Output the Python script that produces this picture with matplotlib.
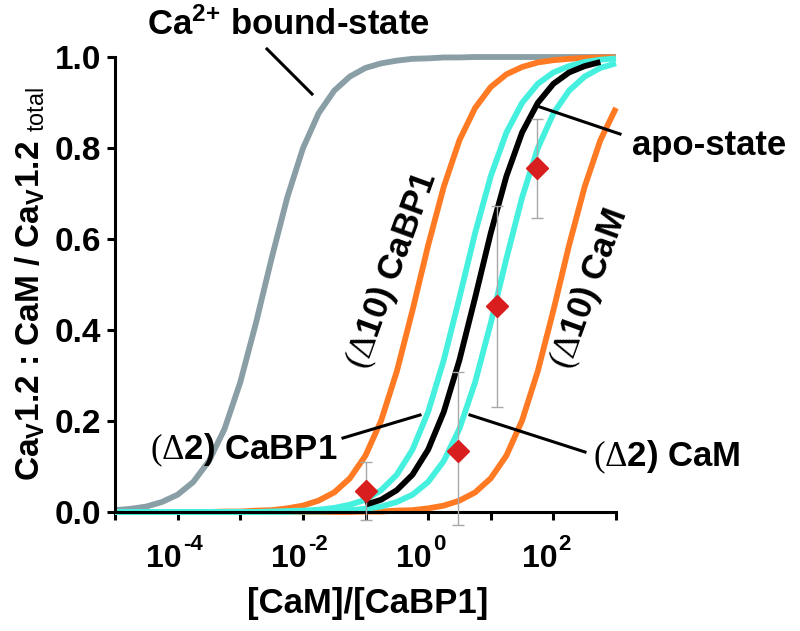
import matplotlib
matplotlib.use('Agg')
import matplotlib.pyplot as plt
import numpy as np
from matplotlib.ticker import FixedLocator, NullFormatter, NullLocator
from matplotlib.lines import Line2D

plt.rcParams['font.family'] = ['Liberation Sans', 'DejaVu Sans']
plt.rcParams['mathtext.fontset'] = 'custom'
plt.rcParams['mathtext.rm'] = 'Liberation Serif'
plt.rcParams['mathtext.bf'] = 'Liberation Sans:bold'
plt.rcParams['mathtext.sf'] = 'Liberation Sans'
plt.rcParams['mathtext.it'] = 'Liberation Sans:italic'

# ---- data (log10 of [CaM]/[CaBP1] sampling grid, and read-off fractions) ----
log_ratio = [-5.0, -4.75, -4.5, -4.25, -4.0, -3.75, -3.5, -3.25, -3.0, -2.75,
             -2.5, -2.25, -2.0, -1.75, -1.5, -1.25, -1.0, -0.75, -0.5, -0.25,
             0.0, 0.25, 0.5, 0.75, 1.0, 1.25, 1.5, 1.75, 2.0, 2.25,
             2.5, 2.75, 3.0]

ca_bound = [0.004, 0.007, 0.012, 0.022, 0.038, 0.066, 0.112, 0.183, 0.285, 0.415,
            0.557, 0.691, 0.799, 0.876, 0.926, 0.957, 0.976, 0.986, 0.992, 0.996,
            0.997, 0.999, 0.999, 1.0, 1.0, 1.0, 1.0, 1.0, 1.0, 1.0,
            1.0, 1.0, 1.0]

d10_cabp1 = [0.0, 0.0, 0.0, 0.0, 0.0, 0.0, 0.0, 0.001, 0.001, 0.003,
             0.004, 0.008, 0.014, 0.025, 0.043, 0.074, 0.124, 0.201, 0.309, 0.443,
             0.586, 0.715, 0.817, 0.888, 0.934, 0.962, 0.978, 0.988, 0.993, 0.996,
             0.998, 0.999, 0.999]

d2_cabp1 = [0.0, 0.0, 0.0, 0.0, 0.0, 0.0, 0.0, 0.0, 0.0, 0.0,
            0.001, 0.002, 0.003, 0.005, 0.009, 0.016, 0.027, 0.048, 0.082, 0.137,
            0.220, 0.334, 0.471, 0.613, 0.738, 0.834, 0.899, 0.941, 0.966, 0.980,
            0.989, 0.994, 0.997]

d2_cam = [0.0, 0.0, 0.0, 0.0, 0.0, 0.0, 0.0, 0.0, 0.0, 0.0,
          0.0, 0.0, 0.001, 0.001, 0.002, 0.004, 0.007, 0.012, 0.022, 0.038,
          0.066, 0.112, 0.183, 0.285, 0.415, 0.557, 0.691, 0.799, 0.876, 0.926,
          0.957, 0.976, 0.986]

d10_cam = [0.0, 0.0, 0.0, 0.0, 0.0, 0.0, 0.0, 0.0, 0.0, 0.0,
           0.0, 0.0, 0.0, 0.0, 0.0, 0.0, 0.001, 0.001, 0.003, 0.004,
           0.008, 0.014, 0.025, 0.043, 0.074, 0.124, 0.201, 0.309, 0.443, 0.586,
           0.715, 0.817, 0.888]

apo_log_ratio = [-1.0, -0.75, -0.5, -0.25, 0.0, 0.25, 0.5, 0.75, 1.0, 1.25,
                 1.5, 1.75, 2.0, 2.25, 2.5, 2.75]
apo_state = [0.016, 0.027, 0.048, 0.082, 0.137, 0.220, 0.334, 0.471, 0.613, 0.738,
             0.834, 0.899, 0.941, 0.966, 0.980, 0.989]

pt_ratio = [0.1, 3.0, 12.6, 55.0]
pt_frac = [0.046, 0.134, 0.452, 0.756]
pt_err_lo = [0.064, 0.163, 0.221, 0.110]
pt_err_hi = [0.064, 0.174, 0.221, 0.108]

x_tick_exp = [-5, -4, -3, -2, -1, 0, 1, 2, 3]
x_label_exp = [-4, -2, 0, 2]
x_label_base = '10'
x_label_sup = ['-4', '-2', '0', '2']
y_ticks = [0.0, 0.2, 0.4, 0.6, 0.8, 1.0]
y_tick_labels = ['0.0', '0.2', '0.4', '0.6', '0.8', '1.0']

# ---- colours ----
C_GRAY = '#8a9ea6'
C_ORANGE = '#ff7a22'
C_CYAN = '#45f0de'
C_RED = '#d81e1e'

W, H = 800, 631
fig = plt.figure(figsize=(W / 100, H / 100), dpi=100)
ax = fig.add_axes([115 / W, 1 - 512 / H, (616 - 115) / W, (512 - 57) / H])


def fp(x, y):
    return (x / W, 1 - y / H)


PT = 0.72  # points per pixel at 100 dpi

x_all = 10 ** np.array(log_ratio)
lw = 4.2
ax.plot(x_all, ca_bound, color=C_GRAY, lw=lw, clip_on=False, solid_capstyle='butt', zorder=2)
ax.plot(x_all, d10_cam, color=C_ORANGE, lw=lw, clip_on=False, solid_capstyle='butt', zorder=2)
ax.plot(x_all, d10_cabp1, color=C_ORANGE, lw=lw, clip_on=False, solid_capstyle='butt', zorder=2)
ax.plot(x_all, d2_cabp1, color=C_CYAN, lw=lw, clip_on=False, solid_capstyle='butt', zorder=2.1)
ax.plot(x_all, d2_cam, color=C_CYAN, lw=lw, clip_on=False, solid_capstyle='butt', zorder=2.1)
ax.plot(10 ** np.array(apo_log_ratio), apo_state, color='black', lw=lw, clip_on=False,
        solid_capstyle='butt', zorder=2.2)

ax.errorbar(pt_ratio, pt_frac, yerr=[pt_err_lo, pt_err_hi], fmt='none', ecolor='#a8a8a8',
            elinewidth=1.0, capsize=4.5, capthick=1.0, clip_on=False, zorder=3)
ax.plot(pt_ratio, pt_frac, linestyle='none', marker='D', markersize=11,
        markerfacecolor=C_RED, markeredgecolor=C_RED, clip_on=False, zorder=4)

ax.set_xscale('log')
ax.set_xlim(1e-5, 1e3)
ax.set_ylim(0, 1)
ax.xaxis.set_major_locator(FixedLocator([10.0 ** e for e in x_tick_exp]))
ax.xaxis.set_major_formatter(NullFormatter())
ax.xaxis.set_minor_locator(NullLocator())
ax.xaxis.set_minor_formatter(NullFormatter())
ax.set_yticks(y_ticks)
ax.set_yticklabels(y_tick_labels, fontsize=24, fontweight='bold')

for s in ['top', 'right']:
    ax.spines[s].set_visible(False)
for s in ['left', 'bottom']:
    ax.spines[s].set_linewidth(2.2)
ax.tick_params(axis='both', direction='out', length=6, width=2.2)
ax.tick_params(axis='y', pad=4)

# x tick labels: "10" with a superscript exponent
for e, sup in zip(x_label_exp, x_label_sup):
    ax.annotate(x_label_base, xy=(10.0 ** e, 0), xycoords=('data', 'axes fraction'),
                xytext=(4 * PT, -55 * PT), textcoords='offset points',
                ha='right', va='baseline', fontsize=23, fontweight='bold',
                annotation_clip=False)
    ax.annotate(sup, xy=(10.0 ** e, 0), xycoords=('data', 'axes fraction'),
                xytext=(5 * PT, -38 * PT), textcoords='offset points',
                ha='left', va='baseline', fontsize=16, fontweight='bold',
                annotation_clip=False)

# axis titles
fig.text(*fp(368, 604), '[CaM]/[CaBP1]', fontsize=25, fontweight='bold',
         ha='center', va='center')
fig.text(*fp(30, 284),
         r'Ca$_{\mathbf{V}}$1.2 : CaM / Ca$_{\mathbf{V}}$1.2 $_{\mathsf{total}}$',
         fontsize=24, fontweight='bold', rotation=90, ha='center', va='center')

# annotations
fig.text(*fp(147, 35), r'Ca$^{\mathbf{2{+}}}$ bound-state', fontsize=25, fontweight='bold',
         ha='left', va='baseline')
fig.text(*fp(632, 155), 'apo-state', fontsize=25, fontweight='bold',
         ha='left', va='baseline')
fig.text(*fp(150, 459), r'$\mathrm{(\Delta}\mathbf{2)\ CaBP1}$', fontsize=25,
         ha='left', va='baseline')
fig.text(*fp(593, 466), r'$\mathrm{(\Delta}\mathbf{2)\ CaM}$', fontsize=25,
         ha='left', va='baseline')
fig.text(*fp(393, 270), r'$\mathrm{(\Delta}\mathbf{10)\ CaBP1}$', fontsize=25,
         rotation=70, rotation_mode='anchor', ha='center', va='center')
fig.text(*fp(590, 289), r'$\mathrm{(\Delta}\mathbf{10)\ CaM}$', fontsize=25,
         rotation=70, rotation_mode='anchor', ha='center', va='center')

leaders = [((267, 49), (312, 94)),
           ((540, 107), (620, 134)),
           ((343, 438), (420, 415)),
           ((470, 415), (585, 452))]
for (x1, y1), (x2, y2) in leaders:
    a = fp(x1, y1)
    b = fp(x2, y2)
    fig.add_artist(Line2D([a[0], b[0]], [a[1], b[1]], transform=fig.transFigure,
                          color='black', lw=2.2, zorder=5))

fig.savefig('out.png', dpi=100)
